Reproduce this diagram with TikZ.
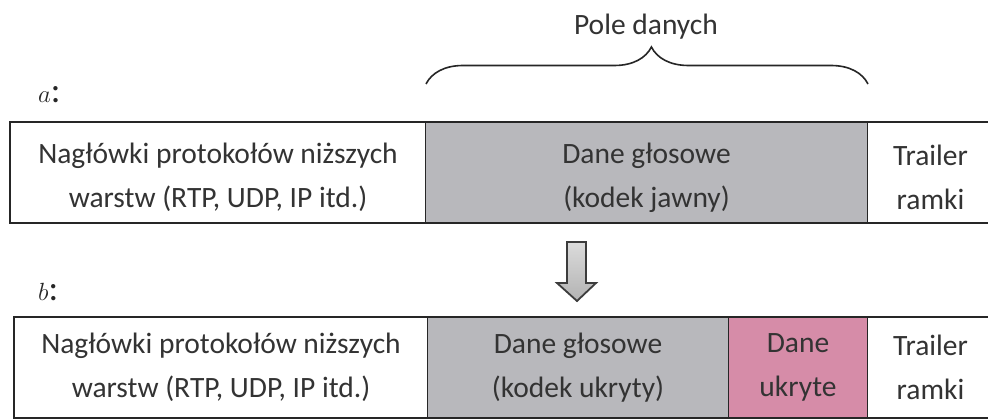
\documentclass[tikz,border=0pt]{standalone}
\usepackage{fontspec}
\setmainfont{Carlito}
\usetikzlibrary{decorations.pathreplacing}
\definecolor{voicegrey}{RGB}{184,184,188}
\definecolor{hidpink}{RGB}{214,140,168}
\definecolor{arrline}{RGB}{60,60,60}
\newcommand{\topstrut}{\rule{0pt}{31pt}}
\begin{document}
\begin{tikzpicture}[x=1pt,y=-1pt,
  cell/.style={draw=black!85, line width=1pt, inner sep=0pt, anchor=north west,
    align=center, font=\fontsize{29.5}{44}\selectfont, text=black!80},
  lbl/.style={font=\fontsize{36}{40}\selectfont, anchor=base west, inner sep=0pt, text=black!85}]
\useasboundingbox (0,0) rectangle (988,419);
\fill[white] (0,0) rectangle (988,419);
% row a
\node[cell, minimum width=415, minimum height=100] (ha) at (10,122) {\topstrut Nagłówki protokołów niższych\\warstw (RTP, UDP, IP itd.)};
\node[cell, fill=voicegrey, minimum width=442, minimum height=100] (va) at (425,122) {\topstrut Dane głosowe\\(kodek jawny)};
\node[cell, minimum width=126, minimum height=100] (ta) at (867,122) {\topstrut Trailer\\ramki};
\draw[line width=2pt, black!85] (ha.north west) rectangle (ta.south east);
% row b
\node[cell, minimum width=413, minimum height=100] (hb) at (14,317) {Nagłówki protokołów niższych\\warstw (RTP, UDP, IP itd.)};
\node[cell, fill=voicegrey, minimum width=301, minimum height=100] (vb) at (427,317) {Dane głosowe\\(kodek ukryty)};
\node[cell, fill=hidpink, minimum width=139, minimum height=100] (pb) at (728,317) {Dane\\ukryte};
\node[cell, minimum width=126, minimum height=100] (tb) at (867,317) {Trailer\\ramki};
\draw[line width=2pt, black!85] (hb.north west) rectangle (tb.south east);
% labels
\node[lbl] (la) at (38,103) {$a$:};
\node[lbl] (lb) at (38,301) {$b$:};
% brace
\coordinate (bl) at (ha.north east |- 0,84);
\coordinate (br) at (va.north east |- 0,84);
\draw[line width=1.6pt, black!85, decorate,
  decoration={brace, amplitude=37pt, aspect=0.51}] (bl) -- (br);
\node[font=\fontsize{29.5}{34}\selectfont, text=black!80] (pd) at (646,27) {Pole danych};
% block arrow
\draw[line width=1.8pt, draw=arrline, top color=black!14, bottom color=black!30]
  (567,242) -- (586,242) -- (586,283) -- (596,283) -- (577,301) -- (557,283) -- (567,283) -- cycle;
\end{tikzpicture}
\end{document}
